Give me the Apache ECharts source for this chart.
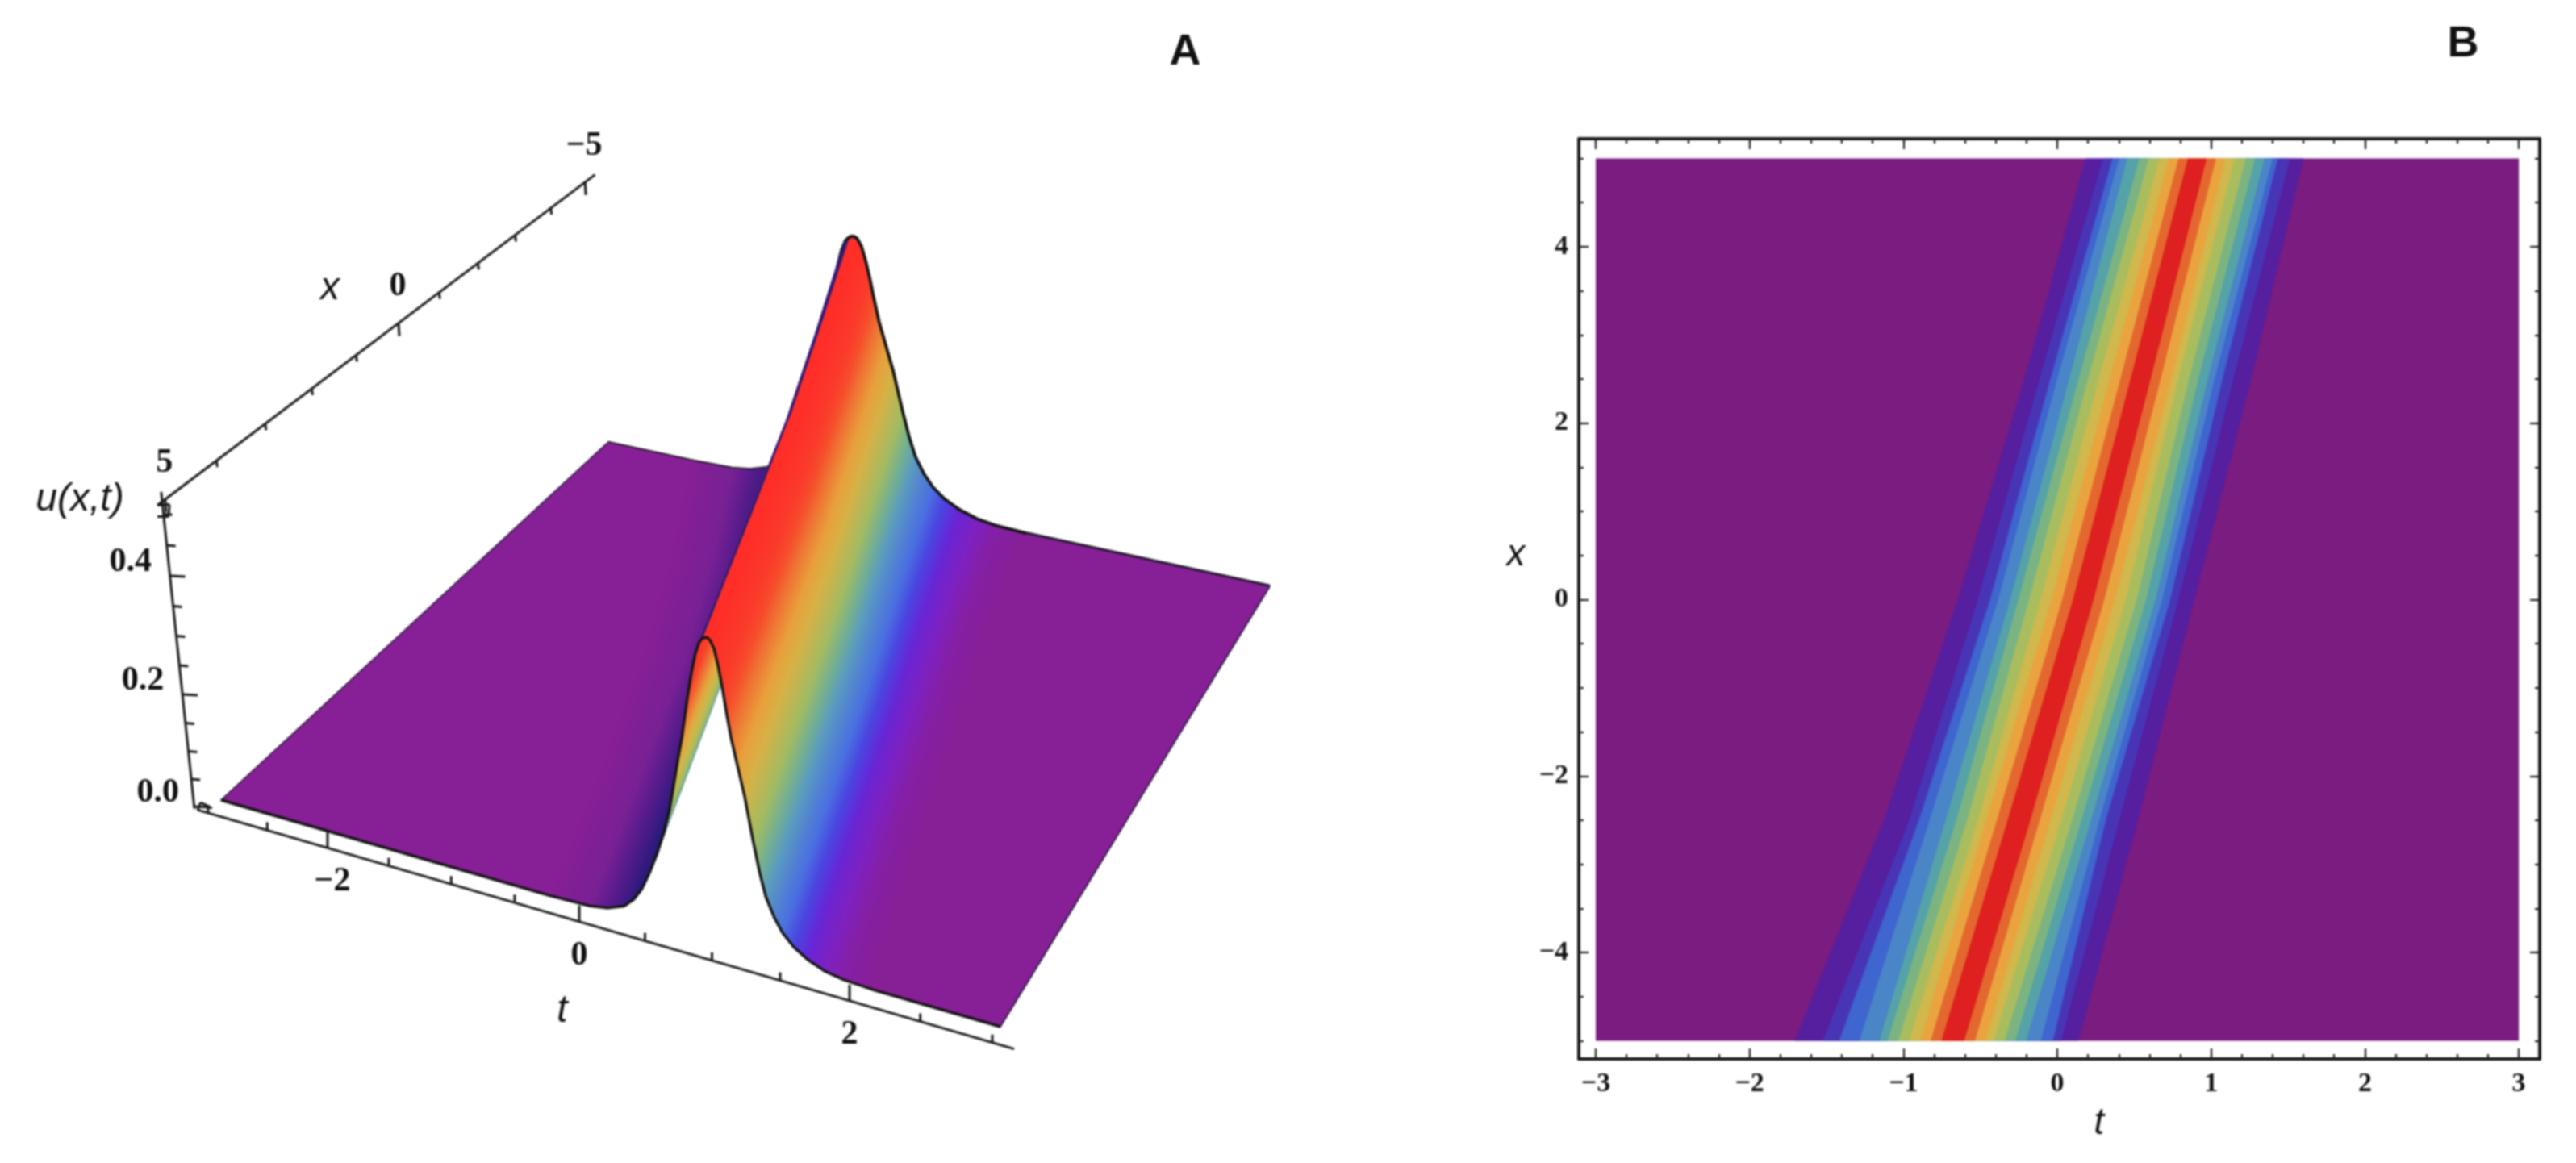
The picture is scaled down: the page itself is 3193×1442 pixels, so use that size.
<!DOCTYPE html>
<html>
<head>
<meta charset="utf-8">
<script src="https://cdn.jsdelivr.net/npm/echarts@6/dist/echarts.min.js"></script>
<style>
html,body{margin:0;padding:0;background:#fff}
#c{width:3193px;height:1442px;filter:blur(0.8px)}
</style>
</head>
<body>
<div id="c"></div>
<script>
// ---------- data ----------
var rowX = [-5, -2.5, 0, 2.5, 5];
var ridgeT = [-0.68, -0.25, 0.168, 0.541, 0.91];
var widthScale = [1.30, 1.167, 1.087, 1.04, 1.0];

// offsets of contour-band edges from the ridge, one row per rowX entry
var bandLeft = [
  [-0.073,-0.143,-0.213,-0.283,-0.353,-0.423,-0.476,-0.607,-0.738,-0.843,-1.026],
  [-0.073,-0.143,-0.213,-0.266,-0.336,-0.406,-0.476,-0.580,-0.650,-0.712,-0.878],
  [-0.066,-0.136,-0.206,-0.276,-0.351,-0.421,-0.474,-0.552,-0.605,-0.684,-0.815],
  [-0.065,-0.131,-0.201,-0.271,-0.341,-0.402,-0.463,-0.542,-0.586,-0.656,-0.755],
  [-0.061,-0.122,-0.184,-0.245,-0.315,-0.376,-0.455,-0.507,-0.551,-0.612,-0.726]
];
var bandRight = [
  [0.075,0.145,0.215,0.267,0.337,0.407,0.477,0.573,0.652,0.705,0.818],
  [0.075,0.136,0.206,0.276,0.346,0.407,0.469,0.524,0.565,0.652,0.774],
  [0.068,0.138,0.208,0.278,0.348,0.409,0.470,0.514,0.566,0.619,0.724],
  [0.066,0.131,0.201,0.245,0.315,0.376,0.437,0.481,0.533,0.603,0.720],
  [0.061,0.122,0.184,0.245,0.315,0.376,0.437,0.490,0.524,0.603,0.691]
];
var bandColors = ['#de2020','#e4672f','#e9a43f','#d0b84c','#a9bd5f','#7cb481','#55a3a8','#4a85c8','#3f65cf','#4835b5','#551f9f'];
var purpleB = '#7a1c80';

// profile of u across the ridge, at the front edge of panel A
var profileXi = [-1.2,-0.885,-0.75,-0.624,-0.55,-0.49,-0.43,-0.37,-0.32,-0.279,-0.245,-0.212,-0.185,-0.164,-0.14,-0.115,-0.085,-0.055,-0.025,0,
                 0.025,0.055,0.085,0.115,0.145,0.18,0.23,0.279,0.345,0.39,0.436,0.497,0.558,0.64,0.739,0.86,1.0,1.2];
var profileU  = [0,0.002,0.007,0.017,0.032,0.051,0.08,0.115,0.15,0.186,0.23,0.273,0.305,0.338,0.375,0.408,0.44,0.46,0.468,0.47,
                 0.467,0.455,0.43,0.399,0.363,0.325,0.283,0.242,0.173,0.13,0.095,0.067,0.047,0.03,0.017,0.007,0.002,0];

var heightStops = [0,0.012,0.04,0.06,0.10,0.2,0.29,0.38,0.48,0.6,0.8,1];
var heightColors = ['#871f96','#8020c0','#6426d8','#4a40e0','#4a70e0','#5a9ac0','#78b488','#a8bc5c','#d0b848','#e8a03c','#f8402a','#ff2d28'];
var shadeStops = [0,0.002,0.007,0.015,0.035,0.07,1];
var shadeColors = ['#871f96','#80209a','#701f90','#5a1c8c','#3f1a84','#2c1a7a','#2a1a78'];

var tTicksA = [-3,-2.5,-2,-1.5,-1,-0.5,0,0.5,1,1.5,2,2.5,3];
var tMajorA = [-2,0,2];
var xTicksA = [-5,-4,-3,-2,-1,0,1,2,3,4,5];
var xMajorA = [-5,0,5];
var uTicksA = [0,0.05,0.1,0.15,0.2,0.25,0.3,0.35,0.4,0.45,0.5];
var uMajorA = [0,0.2,0.4];

var tMajorB = [-3,-2,-1,0,1,2,3];
var tMinorB = [-3,-2.8,-2.6,-2.4,-2.2,-2,-1.8,-1.6,-1.4,-1.2,-1,-0.8,-0.6,-0.4,-0.2,0,0.2,0.4,0.6,0.8,1,1.2,1.4,1.6,1.8,2,2.2,2.4,2.6,2.8,3];
var xMajorB = [-4,-2,0,2,4];
var xMinorB = [-5,-4.5,-4,-3.5,-3,-2.5,-2,-1.5,-1,-0.5,0,0.5,1,1.5,2,2.5,3,3.5,4,4.5,5];

// ---------- helpers ----------
function hexRgb(h){return [parseInt(h.substr(1,2),16),parseInt(h.substr(3,2),16),parseInt(h.substr(5,2),16)];}
function mapColor(v,stops,cols){
  if(v<=stops[0])return cols[0];
  for(var i=1;i<stops.length;i++){
    if(v<=stops[i]){
      var f=(v-stops[i-1])/(stops[i]-stops[i-1]),a=hexRgb(cols[i-1]),b=hexRgb(cols[i]);
      return 'rgb('+Math.round(a[0]+(b[0]-a[0])*f)+','+Math.round(a[1]+(b[1]-a[1])*f)+','+Math.round(a[2]+(b[2]-a[2])*f)+')';
    }
  }
  return cols[cols.length-1];
}
function rowLookup(arr,x){
  for(var i=1;i<rowX.length;i++){
    if(x<=rowX[i]){var f=(x-rowX[i-1])/(rowX[i]-rowX[i-1]);return arr[i-1]+(arr[i]-arr[i-1])*f;}
  }
  return arr[arr.length-1];
}

// ---------- perspective of panel A ----------
var cFL=[274,992],cFR=[1240,1273],cBR=[1574,727],cBL=[753,549];
var H=(function(){
  var dx1=cFR[0]-cBR[0],dx2=cBL[0]-cBR[0],sx=cFL[0]-cFR[0]+cBR[0]-cBL[0];
  var dy1=cFR[1]-cBR[1],dy2=cBL[1]-cBR[1],sy=cFL[1]-cFR[1]+cBR[1]-cBL[1];
  var den=dx1*dy2-dx2*dy1,g=(sx*dy2-dx2*sy)/den,h=(dx1*sy-sx*dy1)/den;
  return {a:cFR[0]-cFL[0]+g*cFR[0],b:cBL[0]-cFL[0]+h*cBL[0],c:cFL[0],
          d:cFR[1]-cFL[1]+g*cFR[1],e:cBL[1]-cFL[1]+h*cBL[1],f:cFL[1],g:g,h:h};
})();
function project(t,x,u){
  var s=(t+3)/6,v=(5-x)/10,w=H.g*s+H.h*v+1;
  var bx=(H.a*s+H.b*v+H.c)/w,by=(H.d*s+H.e*v+H.f)/w;
  var k=(x+5)/10,hp=u*(685+117*k);
  return [bx,by-hp];
}
var uMax=profileU[19];

// positions along a row: edge of sheet, profile samples, edge of sheet
function rowPoints(x){
  var r=rowLookup(ridgeT,x)+0.05*(5-x)/10,s=rowLookup(widthScale,x),pts=[[-3,0,-1]];
  for(var i=0;i<profileXi.length;i++){pts.push([r+profileXi[i]*s,profileU[i],profileXi[i]<0?-1:1]);}
  pts.push([3,0,1]);
  return pts;
}
var quads=[],SUB=6;
for(var ri=0;ri<rowX.length-1;ri++){
  for(var q=0;q<SUB;q++){
    var x0=rowX[ri]+(rowX[ri+1]-rowX[ri])*q/SUB,x1=rowX[ri]+(rowX[ri+1]-rowX[ri])*(q+1)/SUB;
    var p0=rowPoints(x0),p1=rowPoints(x1);
    for(var j=0;j<p0.length-1;j++){
      quads.push({x0:x0,x1:x1,a0:p0[j],b0:p0[j+1],a1:p1[j],b1:p1[j+1]});
    }
  }
}
function outline(x){return rowPoints(x).map(function(p){return project(p[0],x,p[1]);});}
var backLine=outline(-5), frontLine=outline(5);
var backRight=backLine.slice(18,backLine.length-1);
var backFlat=[backLine[backLine.length-2],backLine[backLine.length-1]];
var leftLine=[project(-3,5,0),project(-3,-5,0)], rightLine=[project(3,5,0),project(3,-5,0)];

// 3D axes of panel A
function tPx(t){return (148.8*t+718)/(-0.01777*t+1);}
function tPos(t){var p=tPx(t);return [p,1003+(p-241)*0.2929];}
function xPx(x){return (-62.4*x+494)/(-0.0223*x+1);}
function xPos(x){var p=xPx(x);return [p,622-0.7556*(p-201)];}
function uPos(u){var y=(-812*u+1000)/(-0.136*u+1);return [241-40*(1003-y)/381,y];}

var axisSegs=[];
function seg(a,b){axisSegs.push([a,b]);}
seg(tPos(-3.09),tPos(3.15)); seg(xPos(5.15),xPos(-5.3)); seg(uPos(-0.004),uPos(0.535));
tTicksA.forEach(function(t){var p=tPos(t),l=tMajorA.indexOf(t)>=0?20:10;seg(p,[p[0],p[1]-l]);});
xTicksA.forEach(function(x){var p=xPos(x),l=xMajorA.indexOf(x)>=0?16:8;seg(p,[p[0]+1,p[1]+l]);});
uTicksA.forEach(function(u){var p=uPos(u),l=uMajorA.indexOf(u)>=0?19:11;seg(p,[p[0]+l,p[1]+1]);});
// the two small box corners
var cT=xPos(5.15),cO=tPos(-3.09);
seg(cT,[cT[0]+15,cT[1]-1]);seg([cT[0]+15,cT[1]-1],[cT[0]+14,cT[1]+14]);seg([cT[0]+14,cT[1]+14],[cT[0],cT[1]+14]);
seg(cO,[cO[0]+4,cO[1]-9]);seg([cO[0]+4,cO[1]-9],[cO[0]+18,cO[1]-2]);

var serifA='bold 42px "Liberation Serif"', italicA='italic 48px "Liberation Sans"';
var textMarks=[];
function addText(s,p,font){textMarks.push({s:s,x:p[0],y:p[1],font:font});}
function num(v,d){var s=Math.abs(v).toFixed(d);return (v<0?'\u2212':'')+s;}
tMajorA.forEach(function(t){var p=tPos(t);addText(num(t,0),[p[0]+(t<0?6:0),p[1]+42],serifA);});
[-5,0,5].forEach(function(x){var p=xPos(x);addText(num(x,0),[p[0]-1,p[1]-45],serifA);});
uMajorA.forEach(function(u){var p=uPos(u);addText(num(u,1),[p[0]-49+(u===0?4:0),p[1]-17],serifA);});
addText('t',[697,1254],italicA);
addText('x',[409,358],italicA);
addText('u(x,t)',[99,620],italicA);
addText('A',[1469,65],'bold 54px "Liberation Sans"');
addText('B',[3053,55],'bold 54px "Liberation Sans"');
addText('t',[2602,1393],'italic 46px "Liberation Sans"');
addText('x',[1879,688],'italic 46px "Liberation Sans"');

// ---------- render functions ----------
function P(api,p){return api.coord(p);}
function renderSurface(params,api){
  var q=quads[params.dataIndex];
  var A=project(q.a0[0],q.x0,q.a0[1]),B=project(q.b0[0],q.x0,q.b0[1]),
      C=project(q.b1[0],q.x1,q.b1[1]),D=project(q.a1[0],q.x1,q.a1[1]);
  var cross=(B[0]-A[0])*(D[1]-A[1])-(B[1]-A[1])*(D[0]-A[0]);
  var useShade=(q.a0[2]<0&&q.b0[2]<0&&cross>0);
  var ua=q.a0[1]/uMax,ub=q.b0[1]/uMax;
  var ca=useShade?mapColor(ua,shadeStops,shadeColors):mapColor(ua,heightStops,heightColors);
  var cb=useShade?mapColor(ub,shadeStops,shadeColors):mapColor(ub,heightStops,heightColors);
  var a=P(api,A),b=P(api,B),d=P(api,D);
  // the gradient runs square to the sweep of the row, so colour stays constant along the ridge
  var ex=d[0]-a[0],ey=d[1]-a[1],L=Math.sqrt(ex*ex+ey*ey)||1;ex/=L;ey/=L;
  var nx=-ey,ny=ex,dn=(b[0]-a[0])*nx+(b[1]-a[1])*ny;
  if(Math.abs(dn)<0.01){nx=b[0]-a[0];ny=b[1]-a[1];dn=1;}
  var g={type:'linear',x:a[0],y:a[1],x2:a[0]+nx*dn,y2:a[1]+ny*dn,global:true,colorStops:[{offset:0,color:ca},{offset:1,color:cb}]};
  return {type:'polygon',shape:{points:[a,b,P(api,C),d]},style:{fill:g,stroke:g,lineWidth:1.2},silent:true};
}
function renderLine(pts,w,color){
  return function(params,api){
    return {type:'polyline',shape:{points:pts.map(function(p){return P(api,p);})},style:{fill:null,stroke:color,lineWidth:w,lineJoin:'round'},silent:true};
  };
}
function renderSegs(params,api){
  var s=axisSegs[params.dataIndex];
  return {type:'line',shape:{x1:P(api,s[0])[0],y1:P(api,s[0])[1],x2:P(api,s[1])[0],y2:P(api,s[1])[1]},style:{stroke:'#1a1a1a',lineWidth:3},silent:true};
}
function renderTexts(params,api){
  var m=textMarks[params.dataIndex],p=P(api,[m.x,m.y]);
  return {type:'text',style:{text:m.s,x:p[0],y:p[1],font:m.font,fill:'#111',align:'center',verticalAlign:'middle',textAlign:'center',textVerticalAlign:'middle'},silent:true};
}
function renderBandBack(params,api){
  var pts=[api.coord([-3,-5]),api.coord([3,-5]),api.coord([3,5]),api.coord([-3,5])];
  return {type:'polygon',shape:{points:pts},style:{fill:purpleB},silent:true};
}
function renderBand(params,api){
  var k=10-params.dataIndex,pts=[];
  for(var i=0;i<rowX.length;i++){pts.push(api.coord([ridgeT[i]+bandLeft[i][k],rowX[i]]));}
  for(i=rowX.length-1;i>=0;i--){pts.push(api.coord([ridgeT[i]+bandRight[i][k],rowX[i]]));}
  return {type:'polygon',shape:{points:pts},style:{fill:bandColors[k]},silent:true};
}

// ---------- chart ----------
var frame='#151515';
var tMin=-3.11,tMax=3.136,xMin=-5.206,xMax=5.224;
function tAxis(pos,vals,len,labels){
  return {type:'value',gridIndex:1,position:pos,min:tMin,max:tMax,splitLine:{show:false},
    axisLine:{show:true,onZero:false,lineStyle:{color:frame,width:3.5}},
    axisTick:{show:true,inside:true,length:len,customValues:vals,lineStyle:{color:'#222',width:2.2}},
    axisLabel:labels?{show:true,customValues:vals,margin:14,fontFamily:'Liberation Serif',fontWeight:'bold',fontSize:34,color:'#111',showMinLabel:true,showMaxLabel:true,
      formatter:function(v){return num(v,0);}}:{show:false}};
}
function xAxisB(pos,vals,len,labels){
  return {type:'value',gridIndex:1,position:pos,min:xMin,max:xMax,splitLine:{show:false},
    axisLine:{show:true,onZero:false,lineStyle:{color:frame,width:3.5}},
    axisTick:{show:true,inside:true,length:len,customValues:vals,lineStyle:{color:'#222',width:2.2}},
    axisLabel:labels?{show:true,customValues:vals,margin:13,fontFamily:'Liberation Serif',fontWeight:'bold',fontSize:34,color:'#111',
      formatter:function(v){return num(v,0);}}:{show:false}};
}
var pageAxisX={type:'value',gridIndex:0,min:0,max:3193,show:false};
var pageAxisY={type:'value',gridIndex:0,min:0,max:1442,inverse:true,show:false};

function idx(n){var a=[];for(var i=0;i<n;i++)a.push([i]);return a;}
function pageSeries(n,fn,z){
  return {type:'custom',coordinateSystem:'cartesian2d',xAxisIndex:0,yAxisIndex:0,data:idx(n),renderItem:fn,z:z,clip:false,silent:true,animation:false,encode:{x:0,y:0}};
}

var option={
  animation:false,
  backgroundColor:'#ffffff',
  tooltip:{show:false},
  grid:[
    {left:0,top:0,width:3193,height:1442,show:false},
    {left:1957,top:172,width:1191,height:1141,show:false}
  ],
  xAxis:[pageAxisX,tAxis('bottom',tMajorB,13,true),tAxis('bottom',tMinorB,6,false),tAxis('top',tMajorB,13,false),tAxis('top',tMinorB,6,false)],
  yAxis:[pageAxisY,xAxisB('left',xMajorB,12,true),xAxisB('left',xMinorB,6,false),xAxisB('right',xMajorB,12,false),xAxisB('right',xMinorB,6,false)],
  series:[
    {type:'custom',coordinateSystem:'cartesian2d',xAxisIndex:1,yAxisIndex:1,data:[[0]],renderItem:renderBandBack,z:1,silent:true,animation:false,encode:{x:0,y:0}},
    {type:'custom',coordinateSystem:'cartesian2d',xAxisIndex:1,yAxisIndex:1,data:idx(11),renderItem:renderBand,z:2,silent:true,animation:false,encode:{x:0,y:0}},
    pageSeries(axisSegs.length,renderSegs,3),
    pageSeries(1,renderLine(backLine,4.5,'#141414'),4),
    pageSeries(quads.length,renderSurface,5),
    pageSeries(1,renderLine(backRight,3.2,'#141414'),6),
    pageSeries(1,renderLine(backFlat,1.6,'#2a1a40'),6),
    pageSeries(1,renderLine(frontLine,3.4,'#141414'),6),
    pageSeries(1,renderLine(leftLine,1.6,'#2a1a40'),6),
    pageSeries(1,renderLine(rightLine,1.6,'#2a1a40'),6),
    pageSeries(textMarks.length,renderTexts,7)
  ]
};
var chart=echarts.init(document.getElementById('c'),null,{renderer:'canvas',width:3193,height:1442});
chart.setOption(option);
</script>
</body>
</html>
